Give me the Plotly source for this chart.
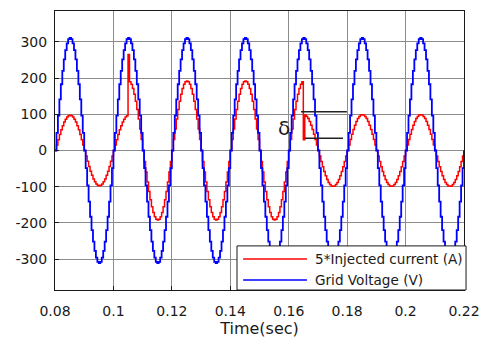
import numpy as np
import plotly.graph_objects as go

# Time window and sampling of the recorded signals
t_start, t_end = 0.08, 0.22
sample_step = 0.0005
grid_freq = 50.0

# Grid voltage peak (V)
voltage_peak = 311.0

# Scaled injected current: amplitude of each operating interval
current_seg_start = [0.08, 0.105, 0.165]
current_seg_amp = [97.0, 192.0, 99.0]

# Switching transients in the current (time, value)
transient_t = [0.105, 0.165]
transient_val = [265.0, 30.0]

# Axis ticks
x_ticks = [0.08, 0.10, 0.12, 0.14, 0.16, 0.18, 0.20, 0.22]
x_labels = ["0.08", "0.1", "0.12", "0.14", "0.16", "0.18", "0.2", "0.22"]
y_ticks = [-300, -200, -100, 0, 100, 200, 300]
y_labels = ["-300", "-200", "-100", "0", "100", "200", "300"]

# Series names and colours
series_names = ["5*Injected current (A)", "Grid Voltage (V)"]
series_colors = ["#ff0000", "#0000ff"]

# Delta marker levels
delta_upper = 107.0
delta_lower = 34.0

# ---- build sampled waveforms ----
t = np.round(np.arange(t_start, t_end + sample_step / 2, sample_step), 6)
phase = np.sin(2 * np.pi * grid_freq * (t - t_start))
voltage = voltage_peak * phase

amp = np.zeros_like(t)
for s, a in zip(current_seg_start, current_seg_amp):
    amp[t >= s - 1e-9] = a
current = amp * phase
for tt, vv in zip(transient_t, transient_val):
    idx = int(np.argmin(np.abs(t - tt)))
    current[idx] = vv

font_family = "DejaVu Sans, Arial, sans-serif"
ink = "#1a1a1a"

fig = go.Figure()
fig.add_trace(go.Scatter(
    x=t, y=current, mode="lines", line=dict(color=series_colors[0], width=1.5, shape="hv"),
    name=series_names[0], showlegend=False))
fig.add_trace(go.Scatter(
    x=t, y=voltage, mode="lines", line=dict(color=series_colors[1], width=1.8, shape="hv"),
    name=series_names[1], showlegend=False))

# delta marker lines
fig.add_shape(type="line", x0=0.1642, x1=0.1799, y0=delta_upper, y1=delta_upper,
              line=dict(color="#222222", width=1.6))
fig.add_shape(type="line", x0=0.1656, x1=0.1786, y0=delta_lower, y1=delta_lower,
              line=dict(color="#222222", width=1.6))
fig.add_annotation(x=0.1585, y=62, text="δ", showarrow=False,
                   font=dict(family=font_family, size=20, color=ink))

# legend box in the lower-right corner of the axes
fig.add_shape(type="rect", xref="paper", yref="paper", x0=0.445, x1=1.005, y0=0.0, y1=0.158,
              fillcolor="white", line=dict(color=ink, width=1), layer="above")
legend_rows = [0.111, 0.036]
for name, color, ry in zip(series_names, series_colors, legend_rows):
    fig.add_shape(type="line", xref="paper", yref="paper", x0=0.46, x1=0.616, y0=ry, y1=ry,
                  line=dict(color=color, width=1.6), layer="above")
    fig.add_annotation(xref="paper", yref="paper", x=0.63, y=ry, text=name,
                       xanchor="left", yanchor="middle", showarrow=False,
                       font=dict(family=font_family, size=13.6, color=ink))

axis_common = dict(
    showline=True, linecolor=ink, linewidth=1, mirror=True,
    showgrid=True, gridcolor="#8c8c8c", gridwidth=1,
    ticks="inside", ticklen=4, tickcolor=ink,
    zeroline=False, automargin=False,
    tickfont=dict(family=font_family, size=14, color=ink),
)

fig.update_layout(
    width=485, height=342,
    margin=dict(l=55, r=21, t=11, b=52),
    paper_bgcolor="white", plot_bgcolor="white",
    font=dict(family=font_family, size=14, color=ink),
    xaxis=dict(range=[t_start, t_end], tickvals=x_ticks, ticktext=x_labels,
               ticklabelstandoff=8,
               title=dict(text="Time(sec)", font=dict(family=font_family, size=16, color=ink),
                          standoff=5),
               **axis_common),
    yaxis=dict(range=[-385, 385], tickvals=y_ticks, ticktext=y_labels,
               ticklabelstandoff=4, **axis_common),
    showlegend=False,
)

fig.write_html("out.html")
